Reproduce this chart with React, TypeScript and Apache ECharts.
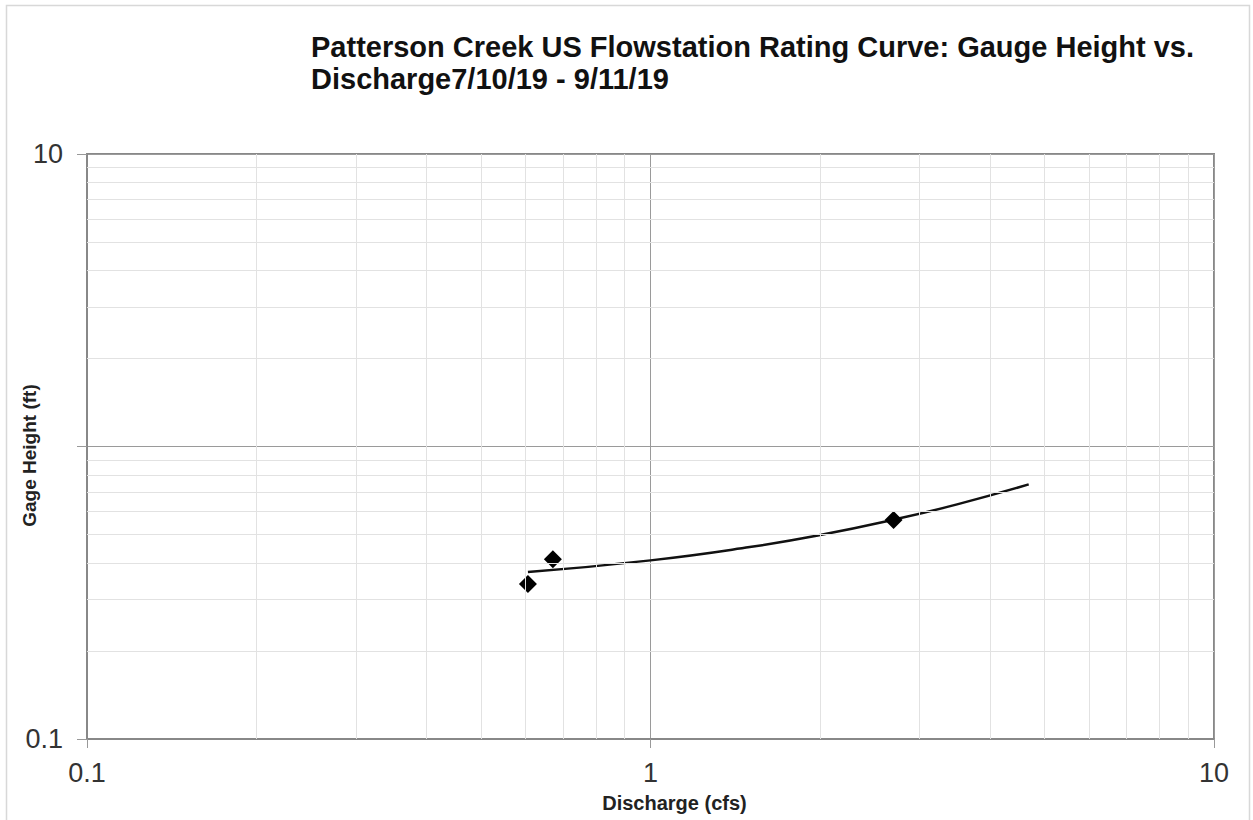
import React, { useEffect, useRef } from "react";
import * as echarts from "echarts";

const titleText = "Patterson Creek US Flowstation Rating Curve: Gauge Height vs.\nDischarge7/10/19 - 9/11/19";
const xName = "Discharge (cfs)";
const yName = "Gage Height (ft)";

// Measured points (discharge cfs, gage height ft)
const measuredX = [0.606, 0.671, 2.7];
const measuredY = [0.339, 0.412, 0.561];

// Trendline
const trendX = [0.606, 1.0, 1.5, 2.0, 2.7, 3.5, 4.69];
const trendY = [0.372, 0.408, 0.453, 0.498, 0.562, 0.634, 0.742];

// Minor grid values
const minorX = [0.2, 0.3, 0.4, 0.5, 0.6, 0.7, 0.8, 0.9, 2, 3, 4, 5, 6, 7, 8, 9];
const minorY = [0.2, 0.3, 0.4, 0.5, 0.6, 0.7, 0.8, 0.9, 2, 3, 4, 5, 6, 7, 8, 9];

// y tick labels shown in the reference (the "1" is not labelled)
const yLabelled = [0.1, 10];

export default function App() {
  const ref = useRef<HTMLDivElement>(null);
  useEffect(() => {
    if (!ref.current) return;
    const chart = echarts.init(ref.current, null, { renderer: "svg" });
    const font = "'Liberation Sans', Arial, sans-serif";
    chart.setOption({
      animation: false,
      backgroundColor: "#ffffff",
      textStyle: { fontFamily: font },
      title: {
        text: titleText,
        left: 306,
        top: 26,
        textStyle: { fontSize: 29, fontWeight: "bold", color: "#111", lineHeight: 32, fontFamily: font },
      },
      graphic: [
        {
          type: "rect",
          shape: { x: 6.5, y: 5.5, width: 1243, height: 840 },
          style: { fill: "none", stroke: "#d8d8d8", lineWidth: 1.5 },
          silent: true,
          z: -1,
        },
      ],
      grid: {
        left: 87,
        right: 39,
        top: 154,
        bottom: 81,
        show: true,
        borderColor: "#888",
        borderWidth: 2,
        containLabel: false,
        outerBoundsMode: "none",
      },
      xAxis: {
        type: "log",
        logBase: 10,
        min: 0.1,
        max: 10,
        name: xName,
        nameLocation: "middle",
        nameGap: 54,
        nameMoveOverlap: false,
        nameTextStyle: { fontSize: 20, fontWeight: "bold", color: "#222", fontFamily: font, padding: [0, 0, 0, 48] },
        axisLine: { show: true, lineStyle: { color: "#888", width: 2 } },
        axisTick: { show: true, length: 9, lineStyle: { color: "#999", width: 1 } },
        axisLabel: { fontSize: 27, color: "#333", margin: 20, fontFamily: font },
        splitLine: { show: true, lineStyle: { color: "#9a9a9a", width: 1 } },
        minorSplitLine: { show: false },
      },
      yAxis: {
        type: "log",
        logBase: 10,
        min: 0.1,
        max: 10,
        name: yName,
        nameLocation: "middle",
        nameGap: 48,
        nameRotate: 90,
        nameMoveOverlap: false,
        nameTextStyle: { fontSize: 19, fontWeight: "bold", color: "#222", fontFamily: font, padding: [0, 18, 0, 0] },
        axisLine: { show: true, lineStyle: { color: "#888", width: 2 } },
        axisTick: { show: true, length: 10, lineStyle: { color: "#999", width: 1 } },
        axisLabel: {
          fontSize: 27,
          color: "#333",
          margin: 24,
          fontFamily: font,
          formatter: (v: number) => (yLabelled.some((t) => Math.abs(t - v) < 1e-9) ? String(v) : ""),
        },
        splitLine: { show: true, lineStyle: { color: "#9a9a9a", width: 1 } },
      },
      series: [
        {
          type: "line",
          data: [],
          silent: true,
          markLine: {
            silent: true,
            symbol: "none",
            label: { show: false },
            lineStyle: { color: "#e2e2e2", width: 1, type: "solid" },
            data: [
              ...minorX.map((v) => ({ xAxis: v })),
              ...minorY.map((v) => ({ yAxis: v })),
            ],
          },
          z: 1,
        },
        {
          type: "line",
          data: trendX.map((x, i) => [x, trendY[i]]),
          smooth: true,
          showSymbol: false,
          lineStyle: { color: "#111", width: 2.5 },
          z: 3,
        },
        {
          type: "scatter",
          data: measuredX.map((x, i) => [x, measuredY[i]]),
          symbol: "diamond",
          symbolSize: 18,
          itemStyle: { color: "#000", opacity: 1 },
          z: 4,
        },
      ],
    });
    return () => chart.dispose();
  }, []);
  return (
    <div
      ref={ref}
      style={{ position: "fixed", left: 0, top: 0, width: 1253, height: 820 }}
    />
  );
}
